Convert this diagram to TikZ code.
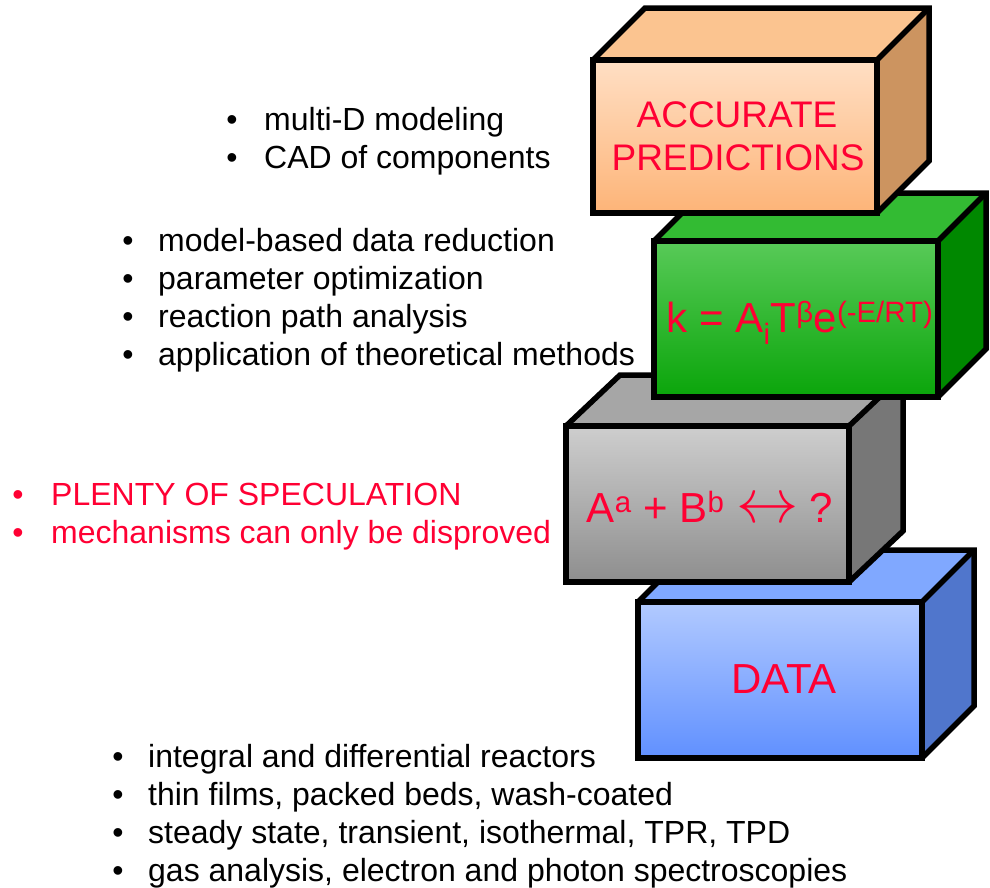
\documentclass[tikz,border=0pt]{standalone}
\usepackage{fontspec}
\setmainfont{Liberation Sans}
\definecolor{txtred}{RGB}{255,0,51}
\definecolor{ortop}{RGB}{251,196,144}
\definecolor{orside}{RGB}{204,148,96}
\definecolor{orft}{RGB}{255,223,196}
\definecolor{orfb}{RGB}{253,180,120}
\definecolor{grtop}{RGB}{51,187,51}
\definecolor{grside}{RGB}{0,136,0}
\definecolor{grft}{RGB}{88,202,88}
\definecolor{grfb}{RGB}{10,165,10}
\definecolor{gytop}{RGB}{166,166,166}
\definecolor{gyside}{RGB}{119,119,119}
\definecolor{gyft}{RGB}{206,206,206}
\definecolor{gyfb}{RGB}{142,142,142}
\definecolor{bltop}{RGB}{128,168,255}
\definecolor{blside}{RGB}{80,118,204}
\definecolor{blft}{RGB}{178,202,255}
\definecolor{blfb}{RGB}{96,144,255}
% #1 x1, #2 y1, #3 x2, #4 y2, #5 dx, #6 dy, #7 colour prefix
\newcommand\mycube[7]{%
  \fill[#7top] (#1,#2) -- ({#1+#5},{#2+#6}) -- ({#3+#5},{#2+#6}) -- (#3,#2) -- cycle;
  \fill[#7side] (#3,#2) -- ({#3+#5},{#2+#6}) -- ({#3+#5},{#4+#6}) -- (#3,#4) -- cycle;
  \shade[top color=#7ft, bottom color=#7fb] (#1,#2) rectangle (#3,#4);
  \draw[cubeline] (#1,#2) -- ({#1+#5},{#2+#6}) -- ({#3+#5},{#2+#6}) -- ({#3+#5},{#4+#6}) -- (#3,#4);
  \draw[cubeline] ({#3+#5},{#2+#6}) -- (#3,#2);
  \draw[cubeline] (#1,#2) rectangle (#3,#4);
}
\begin{document}
\begin{tikzpicture}[x=1pt,y=-1pt,
  cubeline/.style={line width=5.5pt, line join=miter, draw=black},
  lbl/.style={anchor=base west, inner sep=0pt, font=\fontsize{32}{38}\selectfont},
  bul/.style={anchor=base, inner sep=0pt, font=\fontsize{32}{38}\selectfont},
  boxtxt/.style={anchor=base, inner sep=0pt, text=txtred, font=\fontsize{42}{48}\selectfont}]
\useasboundingbox (0,0) rectangle (990,887);

% cubes, bottom to top
\mycube{638}{602}{922}{758}{52}{-52}{bl}
\mycube{566}{426}{849}{582}{54}{-51}{gy}
\mycube{654}{241}{938}{397}{48}{-48}{gr}
\mycube{593}{60}{877}{213}{52}{-52}{or}

% cube labels
\node[boxtxt, font=\fontsize{37}{43}\selectfont] (acc) at (737,127) {ACCURATE};
\node[boxtxt, font=\fontsize{37}{43}\selectfont] (pred) at (738,170) {PREDICTIONS};
\node[boxtxt] (rate) at (800,332) {k = A\textsubscript{i}T\textsuperscript{β}e\textsuperscript{(-E/RT)}};
\node[boxtxt] (mech) at (710,522) {A\textsuperscript{a} + B\textsuperscript{b} \scalebox{2.5}{$\leftrightarrow$} ?};
\node[boxtxt] (data) at (784,693) {DATA};

% top list
\node[bul] (b1a) at (232,130) {•};
\node[lbl] (t1a) at (264,130) {multi-D modeling};
\node[bul] (b1b) at (232,168) {•};
\node[lbl] (t1b) at (264,168) {CAD of components};

% second list
\node[bul] (b2a) at (128,251) {•};
\node[lbl] (t2a) at (158,251) {model-based data reduction};
\node[bul] (b2b) at (128,289) {•};
\node[lbl] (t2b) at (158,289) {parameter optimization};
\node[bul] (b2c) at (128,327) {•};
\node[lbl] (t2c) at (158,327) {reaction path analysis};
\node[bul] (b2d) at (128,365) {•};
\node[lbl] (t2d) at (158,365) {application of theoretical methods};

% red list
\node[bul, text=txtred] (b3a) at (18,505) {•};
\node[lbl, text=txtred] (t3a) at (51,505) {PLENTY OF SPECULATION};
\node[bul, text=txtred] (b3b) at (18,543) {•};
\node[lbl, text=txtred] (t3b) at (51,543) {mechanisms can only be disproved};

% bottom list
\node[bul] (b4a) at (118,767) {•};
\node[lbl] (t4a) at (148,767) {integral and differential reactors};
\node[bul] (b4b) at (118,805) {•};
\node[lbl] (t4b) at (148,805) {thin films, packed beds, wash-coated};
\node[bul] (b4c) at (118,843) {•};
\node[lbl] (t4c) at (148,843) {steady state, transient, isothermal, TPR, TPD};
\node[bul] (b4d) at (118,881) {•};
\node[lbl] (t4d) at (148,881) {gas analysis, electron and photon spectroscopies};
\end{tikzpicture}
\end{document}
